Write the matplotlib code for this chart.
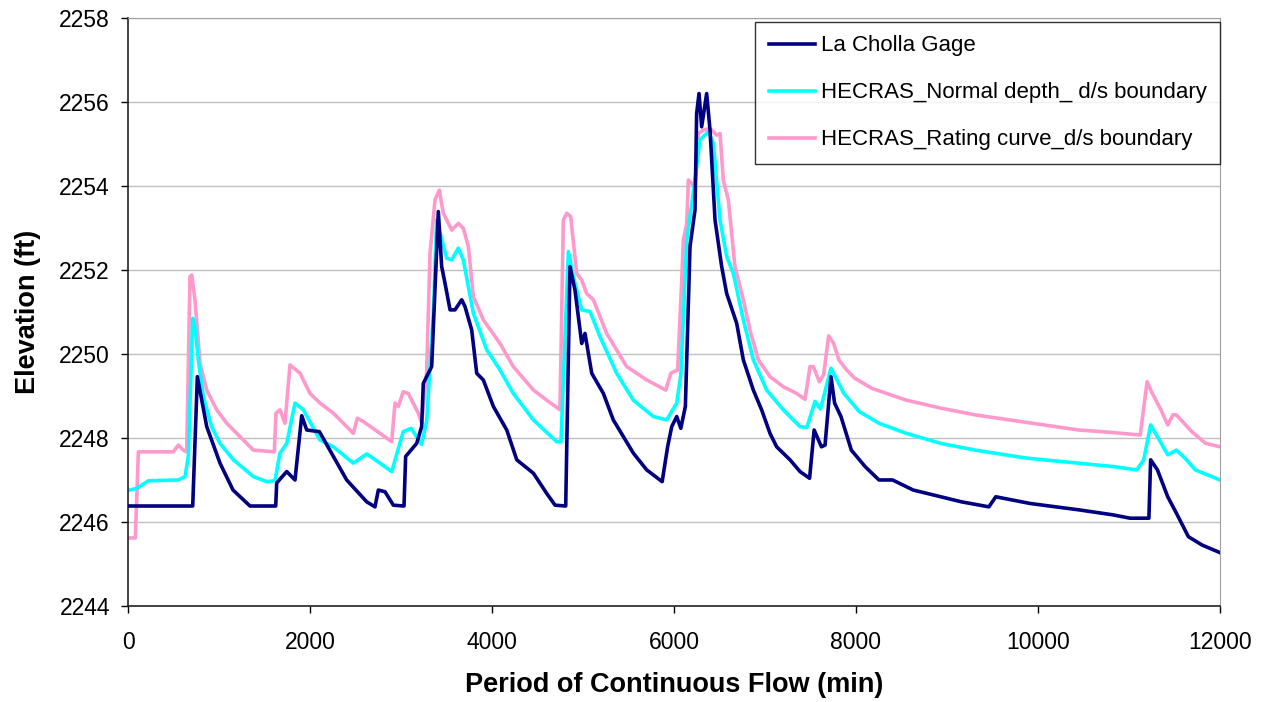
import matplotlib
matplotlib.use("Agg")
import matplotlib.pyplot as plt

plt.rcParams['font.family'] = ['Liberation Sans', 'DejaVu Sans']

# La Cholla Gage (measured)
gage_x = [0, 711, 762, 865, 1011, 1154, 1341, 1623, 1634, 1744, 1835, 1909, 1964, 2103,
          2403, 2623, 2714, 2751, 2824, 2916, 3033, 3051, 3172, 3227, 3245, 3337, 3410,
          3447, 3484, 3539, 3593, 3667, 3703, 3777, 3832, 3905, 4015, 4162, 4272, 4455,
          4601, 4693, 4810, 4857, 4912, 4986, 5022, 5096, 5224, 5333, 5553, 5700, 5870,
          5930, 5975, 6030, 6075, 6125, 6176, 6231, 6249, 6275, 6304, 6359, 6396, 6451,
          6524, 6579, 6689, 6762, 6872, 6963, 7055, 7128, 7275, 7385, 7490, 7540, 7620,
          7660, 7725, 7765, 7835, 7949, 8100, 8252, 8402, 8629, 8932, 9158, 9461, 9536,
          9914, 10444, 10822, 11011, 11219, 11238, 11313, 11426, 11521, 11653, 11804, 12000]
gage_y = [2246.38, 2246.38, 2249.46, 2248.27, 2247.40, 2246.76, 2246.38, 2246.38, 2246.93,
          2247.20, 2247.00, 2248.53, 2248.19, 2248.15, 2247.00, 2246.48, 2246.36, 2246.76,
          2246.72, 2246.40, 2246.38, 2247.56, 2247.87, 2248.27, 2249.30, 2249.70, 2253.39,
          2252.08, 2251.68, 2251.05, 2251.05, 2251.29, 2251.13, 2250.57, 2249.54, 2249.38,
          2248.75, 2248.19, 2247.48, 2247.16, 2246.68, 2246.40, 2246.38, 2252.08, 2251.52,
          2250.25, 2250.49, 2249.54, 2249.06, 2248.43, 2247.64, 2247.24, 2246.96, 2247.79,
          2248.27, 2248.51, 2248.23, 2248.75, 2252.56, 2253.43, 2255.73, 2256.20, 2255.41,
          2256.20, 2255.33, 2253.19, 2252.08, 2251.44, 2250.73, 2249.86, 2249.14, 2248.67,
          2248.11, 2247.79, 2247.48, 2247.20, 2247.04, 2248.19, 2247.79, 2247.83, 2249.46,
          2248.83, 2248.51, 2247.71, 2247.32, 2247.00, 2247.00, 2246.76, 2246.60, 2246.48,
          2246.36, 2246.60, 2246.44, 2246.29, 2246.17, 2246.09, 2246.09, 2247.48, 2247.24,
          2246.60, 2246.21, 2245.65, 2245.45, 2245.27]

# HECRAS normal depth d/s boundary
normal_x = [0, 95, 223, 553, 626, 663, 711, 736, 773, 828, 919, 1011, 1158, 1378, 1524,
            1615, 1670, 1744, 1835, 1927, 2110, 2256, 2476, 2623, 2769, 2898, 3025, 3110,
            3227, 3282, 3355, 3392, 3502, 3557, 3630, 3685, 3795, 3942, 4088, 4234, 4455,
            4711, 4758, 4839, 4894, 4986, 5077, 5187, 5370, 5553, 5773, 5920, 6030, 6075,
            6140, 6231, 6286, 6377, 6432, 6506, 6579, 6652, 6762, 6872, 7018, 7201, 7385,
            7460, 7550, 7610, 7725, 7867, 8035, 8252, 8553, 8932, 9310, 9876, 10444, 10822,
            11087, 11162, 11238, 11313, 11426, 11521, 11616, 11729, 12000]
normal_y = [2246.75, 2246.80, 2246.98, 2247.00, 2247.08, 2247.56, 2250.85, 2250.65, 2249.86,
            2248.98, 2248.27, 2247.87, 2247.48, 2247.08, 2246.96, 2246.98, 2247.64, 2247.87,
            2248.83, 2248.67, 2247.95, 2247.79, 2247.40, 2247.62, 2247.40, 2247.20, 2248.15,
            2248.23, 2247.85, 2248.40, 2250.97, 2253.19, 2252.28, 2252.24, 2252.52, 2252.24,
            2250.97, 2250.10, 2249.62, 2249.06, 2248.43, 2247.91, 2247.91, 2252.44, 2251.84,
            2251.05, 2251.01, 2250.41, 2249.54, 2248.90, 2248.51, 2248.43, 2248.83, 2249.50,
            2252.70, 2254.14, 2255.10, 2255.29, 2255.02, 2253.19, 2252.32, 2251.92, 2250.81,
            2249.86, 2249.14, 2248.67, 2248.27, 2248.25, 2248.87, 2248.69, 2249.66, 2249.06,
            2248.63, 2248.35, 2248.11, 2247.87, 2247.71, 2247.52, 2247.40, 2247.32, 2247.24,
            2247.48, 2248.31, 2248.03, 2247.60, 2247.71, 2247.52, 2247.24, 2247.00]

# HECRAS rating curve d/s boundary
rating_x = [0, 80, 114, 498, 553, 608, 645, 681, 700, 736, 791, 865, 975, 1085, 1231,
            1378, 1608, 1626, 1670, 1725, 1780, 1890, 2000, 2110, 2256, 2476, 2520, 2586,
            2769, 2898, 2934, 2970, 3025, 3080, 3190, 3227, 3282, 3319, 3374, 3421, 3465,
            3557, 3630, 3685, 3740, 3795, 3905, 4088, 4234, 4455, 4601, 4747, 4784, 4821,
            4865, 4931, 4986, 5040, 5114, 5260, 5480, 5700, 5910, 5965, 6040, 6085, 6103,
            6140, 6158, 6194, 6231, 6267, 6322, 6396, 6469, 6506, 6542, 6597, 6670, 6762,
            6835, 6927, 7055, 7201, 7348, 7440, 7495, 7531, 7597, 7644, 7700, 7755, 7812,
            7897, 7987, 8176, 8553, 8932, 9310, 9687, 10066, 10444, 10822, 11124, 11199,
            11238, 11351, 11426, 11483, 11521, 11691, 11843, 12000]
rating_y = [2245.62, 2245.62, 2247.67, 2247.67, 2247.83, 2247.71, 2247.67, 2251.84, 2251.88,
            2251.29, 2249.78, 2249.14, 2248.67, 2248.35, 2248.03, 2247.71, 2247.67, 2248.59,
            2248.67, 2248.35, 2249.74, 2249.54, 2249.06, 2248.83, 2248.59, 2248.11, 2248.47,
            2248.39, 2248.11, 2247.91, 2248.83, 2248.75, 2249.10, 2249.06, 2248.59, 2248.35,
            2249.58, 2252.40, 2253.67, 2253.90, 2253.35, 2252.95, 2253.11, 2252.99, 2252.56,
            2251.37, 2250.81, 2250.25, 2249.70, 2249.14, 2248.90, 2248.67, 2253.19, 2253.35,
            2253.27, 2251.92, 2251.76, 2251.44, 2251.29, 2250.49, 2249.70, 2249.38, 2249.14,
            2249.54, 2249.62, 2251.76, 2252.71, 2253.11, 2254.14, 2254.06, 2253.98, 2255.25,
            2255.33, 2255.37, 2255.21, 2255.25, 2254.14, 2253.67, 2252.08, 2251.29, 2250.57,
            2249.86, 2249.46, 2249.22, 2249.06, 2248.92, 2249.70, 2249.70, 2249.34, 2249.50,
            2250.43, 2250.25, 2249.86, 2249.62, 2249.42, 2249.18, 2248.90, 2248.71, 2248.55,
            2248.43, 2248.31, 2248.19, 2248.13, 2248.07, 2249.34, 2249.14, 2248.67, 2248.31,
            2248.55, 2248.55, 2248.15, 2247.87, 2247.79]

series_labels = ['La Cholla Gage', 'HECRAS_Normal depth_ d/s boundary',
                 'HECRAS_Rating curve_d/s boundary']
x_ticks = [0, 2000, 4000, 6000, 8000, 10000, 12000]
y_ticks = [2244, 2246, 2248, 2250, 2252, 2254, 2256, 2258]

fig = plt.figure(figsize=(12.65, 7.02), dpi=100)
ax = fig.add_axes([0.1012, 0.1368, 0.8632, 0.8376])

ax.plot(gage_x, gage_y, color='#000080', lw=2.6, label=series_labels[0], zorder=3)
ax.plot(normal_x, normal_y, color='#00FFFF', lw=2.6, label=series_labels[1], zorder=2)
ax.plot(rating_x, rating_y, color='#FF99CC', lw=2.6, label=series_labels[2], zorder=1)

ax.set_xlim(0, 12000)
ax.set_ylim(2244, 2258)
ax.set_xticks(x_ticks)
ax.set_yticks(y_ticks)
ax.tick_params(labelsize=16.5, direction='out', length=5, width=1)
ax.tick_params(axis='y', pad=8)
ax.tick_params(axis='x', pad=13)
ax.yaxis.grid(True, color='#c0c0c0', lw=1)
ax.set_axisbelow(True)

for side in ['top', 'right']:
    ax.spines[side].set_color('#a0a0a0')
for side in ['left', 'bottom']:
    ax.spines[side].set_color('#222222')
    ax.spines[side].set_linewidth(1.2)

ax.set_xlabel('Period of Continuous Flow (min)', fontsize=19.5, fontweight='bold', labelpad=13)
ax.set_ylabel('Elevation (ft)', fontsize=19.5, fontweight='bold', labelpad=13)

leg = ax.legend(loc='upper right', bbox_to_anchor=(1.0, 1 - 4 / 588), fontsize=16,
                frameon=True, fancybox=False, edgecolor='black', borderaxespad=0,
                handlelength=2.1, handletextpad=0.25, labelspacing=1.17, borderpad=0.6)
leg.get_frame().set_linewidth(1)

fig.savefig('out.png', dpi=100)
